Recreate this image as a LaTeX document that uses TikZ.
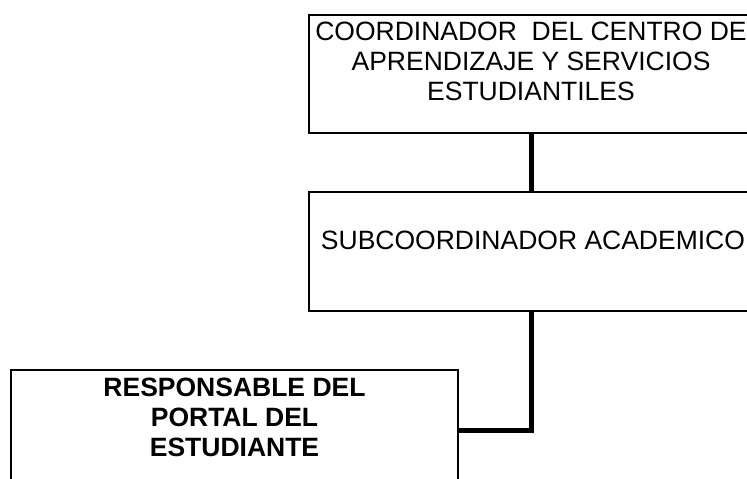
\documentclass[tikz,border=0pt]{standalone}
\usepackage{fontspec}
\setmainfont{Liberation Sans}
\begin{document}
\begin{tikzpicture}[x=1pt,y=1pt,
  orgbox/.style={draw=black, line width=1.5pt, rectangle, inner sep=0pt, fill=none},
  orgtext/.style={inner sep=0pt, align=center, anchor=north, font=\fontsize{26.5}{30}\selectfont},
  conn/.style={draw=black, line width=5pt}]
\useasboundingbox (0,0) rectangle (747,-479);
\clip (0,0) rectangle (747,-479);
% boxes
\node[orgbox, minimum width=444pt, minimum height=118pt] (coord) at (531,-74) {};
\node[orgbox, minimum width=444pt, minimum height=119pt] (sub) at (531,-251.5) {};
\node[orgbox, minimum width=447pt, minimum height=120pt] (resp) at (234.5,-430) {};
% texts
\node[orgtext] (coordtxt) at (531,-21.4) {COORDINADOR\ \ DEL CENTRO DE\\APRENDIZAJE Y SERVICIOS\\ESTUDIANTILES};
\node[orgtext] (subtxt) at (533,-230.7) {SUBCOORDINADOR ACADEMICO};
\node[orgtext, font=\fontsize{26.5}{30}\selectfont\bfseries] (resptxt) at (234.5,-377.5) {RESPONSABLE DEL\\PORTAL DEL\\ESTUDIANTE};
% connectors
\draw[conn] (coord.south) -- (sub.north);
\draw[conn] (sub.south) |- (resp.east);
\end{tikzpicture}
\end{document}
